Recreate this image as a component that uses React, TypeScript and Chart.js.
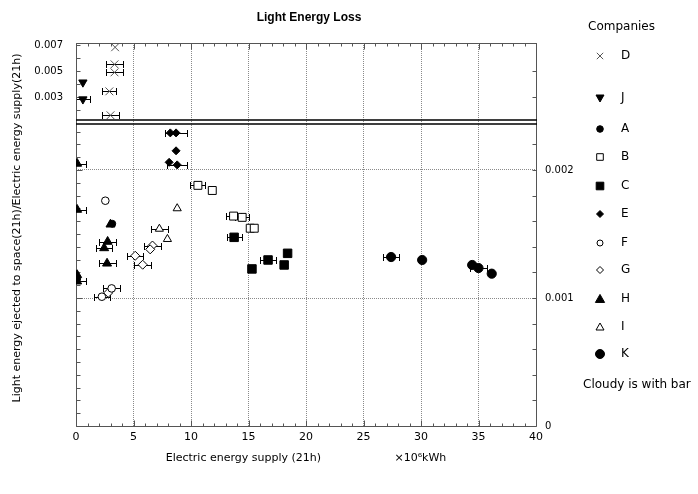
import React, { useEffect, useRef } from 'react';
import { Chart, registerables } from 'chart.js';

Chart.register(...registerables);

// ---------------- data ----------------
const X_TICKS = [0, 5, 10, 15, 20, 25, 30, 35, 40];
const TOP_TICKS = [0.003, 0.005, 0.007];
const MAIN_TICKS = [0, 0.001, 0.002];

const D_X = [3.4, 3.35, 3.35, 2.9, 3.0];
const D_Y = [0.00685, 0.00554, 0.00492, 0.00346, 0.00162];
const D_ERR = [0, 0.7, 0.7, 0.6, 0.74];

const J_X = [0.6, 0.6];
const J_Y = [0.00415, 0.00285];
const J_ERR = [0, 0.65];

const A_X = [3.15, 0.1];
const A_Y = [0.00158, 0.00115];
const A_ERR = [0, 0];

const B_X = [10.6, 11.85, 13.7, 14.45, 15.15, 15.5];
const B_Y = [0.00188, 0.00184, 0.00164, 0.00163, 0.001545, 0.001545];
const B_ERR = [0.65, 0, 0.65, 0.6, 0, 0];

const C_X = [13.75, 15.3, 16.7, 18.1, 18.4];
const C_Y = [0.001474, 0.001227, 0.001297, 0.001258, 0.001349];
const C_ERR = [0.65, 0, 0.7, 0, 0];

const E_X = [8.2, 8.7, 8.7, 8.1, 8.8];
const E_Y = [0.00229, 0.00229, 0.00215, 0.00206, 0.00204];
const E_ERR = [0, 0.95, 0, 0, 0.85];

const F_X = [2.55, 3.1, 2.25];
const F_Y = [0.00176, 0.001075, 0.00101];
const F_ERR = [0, 0.73, 0.7];

const G_X = [5.15, 5.8, 6.65, 6.45, 2.8];
const G_Y = [0.00133, 0.00126, 0.00141, 0.00138, 0.00104];
const G_ERR = [0.7, 0.75, 0.72, 0, 0];

const H_X = [0.1, 0.1, 2.75, 2.45, 2.7, 0.1, 0.1, 3.0];
const H_Y = [0.00205, 0.00169, 0.00144, 0.00139, 0.00127, 0.00118, 0.00113, 0.001575];
const H_ERR = [0.75, 0.75, 0.74, 0.7, 0.74, 0, 0.75, 0];

const I_X = [8.8, 7.25, 7.95];
const I_Y = [0.0017, 0.00154, 0.00146];
const I_ERR = [0, 0.74, 0];

const K_X = [27.4, 30.1, 34.45, 35.0, 36.15];
const K_Y = [0.00132, 0.001297, 0.001258, 0.001234, 0.00119];
const K_ERR = [0.7, 0, 0, 0.75, 0];

// ---------------- styles ----------------
type Shape = 'cross' | 'tri' | 'triDown' | 'circle' | 'square' | 'diamond';
interface Series {
  label: string;
  xs: number[];
  ys: number[];
  err: number[];
  axis: string;
  shape: Shape;
  r: number;
  fill: boolean;
  lr: number;
}

const SERIES: Series[] = [
  { label: 'D', xs: D_X, ys: D_Y, err: D_ERR, axis: 'yTop', shape: 'cross', r: 5.5, fill: false, lr: 3.2 },
  { label: 'J', xs: J_X, ys: J_Y, err: J_ERR, axis: 'yTop', shape: 'triDown', r: 4.8, fill: true, lr: 4 },
  { label: 'A', xs: A_X, ys: A_Y, err: A_ERR, axis: 'yMain', shape: 'circle', r: 3.5, fill: true, lr: 3.3 },
  { label: 'B', xs: B_X, ys: B_Y, err: B_ERR, axis: 'yMain', shape: 'square', r: 5.6, fill: false, lr: 3.3 },
  { label: 'C', xs: C_X, ys: C_Y, err: C_ERR, axis: 'yMain', shape: 'square', r: 6, fill: true, lr: 3.8 },
  { label: 'E', xs: E_X, ys: E_Y, err: E_ERR, axis: 'yMain', shape: 'diamond', r: 4, fill: true, lr: 3.5 },
  { label: 'F', xs: F_X, ys: F_Y, err: F_ERR, axis: 'yMain', shape: 'circle', r: 3.8, fill: false, lr: 3 },
  { label: 'G', xs: G_X, ys: G_Y, err: G_ERR, axis: 'yMain', shape: 'diamond', r: 4.5, fill: false, lr: 3.5 },
  { label: 'H', xs: H_X, ys: H_Y, err: H_ERR, axis: 'yMain', shape: 'tri', r: 5.2, fill: true, lr: 4.6 },
  { label: 'I', xs: I_X, ys: I_Y, err: I_ERR, axis: 'yMain', shape: 'tri', r: 4.7, fill: false, lr: 4 },
  { label: 'K', xs: K_X, ys: K_Y, err: K_ERR, axis: 'yMain', shape: 'circle', r: 4.6, fill: true, lr: 4.5 },
];

const FONT = 'DejaVu Sans';
const LEGEND_Y = [56, 98, 129, 157, 186, 214, 243, 270, 299, 327, 354];

const pointStyleOf = (s: Shape) =>
  s === 'cross' ? 'crossRot' : s === 'tri' || s === 'triDown' ? 'triangle' : s === 'square' ? 'rect' : s === 'diamond' ? 'rectRot' : 'circle';

function drawMarker(ctx: CanvasRenderingContext2D, shape: Shape, x: number, y: number, r: number, fill: boolean) {
  ctx.save();
  ctx.lineWidth = 1;
  ctx.strokeStyle = '#000';
  ctx.fillStyle = fill ? '#000' : '#fff';
  ctx.beginPath();
  if (shape === 'circle') {
    ctx.arc(x, y, r, 0, Math.PI * 2);
  } else if (shape === 'square') {
    ctx.rect(x - r, y - r, 2 * r, 2 * r);
  } else if (shape === 'diamond') {
    ctx.moveTo(x, y - r); ctx.lineTo(x + r, y); ctx.lineTo(x, y + r); ctx.lineTo(x - r, y); ctx.closePath();
  } else if (shape === 'tri') {
    ctx.moveTo(x, y - r); ctx.lineTo(x + r, y + r * 0.75); ctx.lineTo(x - r, y + r * 0.75); ctx.closePath();
  } else if (shape === 'triDown') {
    ctx.moveTo(x, y + r); ctx.lineTo(x + r, y - r * 0.75); ctx.lineTo(x - r, y - r * 0.75); ctx.closePath();
  } else {
    ctx.moveTo(x - r, y - r); ctx.lineTo(x + r, y + r); ctx.moveTo(x + r, y - r); ctx.lineTo(x - r, y + r);
    ctx.strokeStyle = '#555';
    ctx.stroke();
    ctx.restore();
    return;
  }
  ctx.fill();
  ctx.stroke();
  ctx.restore();
}

const errorBarPlugin = {
  id: 'errorBars',
  beforeDatasetsDraw(chart: any) {
    const { ctx, chartArea: ca } = chart;
    const xs = chart.scales.x;
    ctx.save();
    ctx.beginPath();
    ctx.rect(ca.left, ca.top, ca.right - ca.left, ca.bottom - ca.top);
    ctx.clip();
    ctx.strokeStyle = '#000';
    ctx.lineWidth = 1;
    chart.data.datasets.forEach((ds: any) => {
      const ys = chart.scales[ds.yAxisID];
      ds.data.forEach((p: any) => {
        if (!p.err) return;
        const x1 = Math.round(xs.getPixelForValue(p.x - p.err)) + 0.5;
        const x2 = Math.round(xs.getPixelForValue(p.x + p.err)) + 0.5;
        const y = Math.round(ys.getPixelForValue(p.y)) + 0.5;
        ctx.beginPath();
        ctx.moveTo(x1, y); ctx.lineTo(x2, y);
        ctx.moveTo(x1, y - 3.5); ctx.lineTo(x1, y + 3.5);
        ctx.moveTo(x2, y - 3.5); ctx.lineTo(x2, y + 3.5);
        ctx.stroke();
      });
    });
    ctx.restore();
  },
};

const framePlugin = {
  id: 'frame',
  beforeDatasetsDraw(chart: any) {
    const { ctx, chartArea: ca, scales } = chart;
    const xS = scales.x, yT = scales.yTop, yM = scales.yMain;
    const L = Math.round(ca.left) + 0.5;
    const R = Math.round(ca.right) + 0.5;
    const T = Math.round(ca.top) + 0.5;
    const B = Math.round(ca.bottom) + 0.5;
    ctx.save();
    ctx.lineWidth = 1;
    ctx.strokeStyle = '#555';
    ctx.beginPath();
    ctx.moveTo(L, T); ctx.lineTo(L, B);
    ctx.moveTo(L, B); ctx.lineTo(R, B);
    ctx.moveTo(R, T); ctx.lineTo(R, B);
    ctx.moveTo(L, T); ctx.lineTo(R, T);
    // x ticks
    for (let v = 0; v <= 40; v += 1) {
      const px = Math.round(xS.getPixelForValue(v)) + 0.5;
      const len = v % 5 === 0 ? 6 : 3;
      ctx.moveTo(px, B); ctx.lineTo(px, B - len);
      ctx.moveTo(px, T); ctx.lineTo(px, T + len);
    }
    // main region ticks
    for (let i = 1; i <= 23; i++) {
      const py = Math.round(yM.getPixelForValue(i * 0.0001)) + 0.5;
      ctx.moveTo(L, py); ctx.lineTo(L + (i % 10 === 0 ? 6 : 4), py);
      if (i % 2 === 0) { ctx.moveTo(R, py); ctx.lineTo(R - 4, py); }
    }
    // top region ticks
    for (let i = 2; i <= 7; i++) {
      const py = Math.round(yT.getPixelForValue(i * 0.001)) + 0.5;
      ctx.moveTo(L, py); ctx.lineTo(L + 4, py);
      if (i % 2 === 1 && i < 7) { ctx.moveTo(R, py); ctx.lineTo(R - 4, py); }
    }
    ctx.stroke();
    // axis break: double line
    const b = yM.top;
    ctx.strokeStyle = '#000';
    ctx.lineWidth = 1.5;
    ctx.beginPath();
    ctx.moveTo(ca.left, b - 2); ctx.lineTo(ca.right + 1, b - 2);
    ctx.moveTo(ca.left, b + 2); ctx.lineTo(ca.right + 1, b + 2);
    ctx.stroke();
    ctx.restore();
  },
};

const textPlugin = {
  id: 'texts',
  afterDraw(chart: any) {
    const { ctx } = chart;
    ctx.save();
    ctx.fillStyle = '#000';
    // y axis title
    ctx.save();
    ctx.translate(17, 228);
    ctx.rotate(-Math.PI / 2);
    ctx.font = `11px "${FONT}"`;
    ctx.textAlign = 'center';
    ctx.textBaseline = 'middle';
    ctx.fillText('Light energy ejected to space(21h)/Electric energy supply(21h)', 0, 0);
    ctx.restore();
    // legend
    ctx.font = `12px "${FONT}"`;
    ctx.textBaseline = 'middle';
    ctx.textAlign = 'left';
    ctx.fillText('Companies', 588, 27);
    SERIES.forEach((s, i) => {
      drawMarker(ctx, s.shape, 600, LEGEND_Y[i], s.lr, s.fill);
      ctx.fillStyle = '#000';
      ctx.fillText(s.label, 621, LEGEND_Y[i]);
    });
    ctx.fillText('Cloudy is with bar', 583, 385);
    ctx.restore();
  },
};

export default function App() {
  const ref = useRef<HTMLCanvasElement>(null);
  useEffect(() => {
    const datasets = SERIES.map((s) => ({
      label: s.label,
      yAxisID: s.axis,
      data: s.xs.map((x, i) => ({ x, y: s.ys[i], err: s.err[i] })),
      pointStyle: pointStyleOf(s.shape),
      rotation: s.shape === 'triDown' ? 180 : 0,
      pointRadius: s.r,
      pointBorderWidth: 1,
      pointBorderColor: s.shape === 'cross' ? '#555' : '#000',
      pointBackgroundColor: s.fill ? '#000' : '#fff',
      showLine: false,
    }));
    const tickFont = { family: FONT, size: 10 };
    const chart = new Chart(ref.current as HTMLCanvasElement, {
      type: 'scatter',
      data: { datasets } as any,
      plugins: [errorBarPlugin, framePlugin, textPlugin],
      options: {
        responsive: false,
        animation: false,
        layout: { padding: { left: 0, right: 80, top: 0, bottom: 0 } },
        plugins: {
          legend: { display: false },
          tooltip: { enabled: false },
          title: {
            display: true,
            text: 'Light Energy Loss',
            color: '#000',
            font: { family: 'Liberation Sans', size: 12, weight: 'bold' },
            padding: { top: 10, bottom: 18.6 },
          },
        },
        scales: {
          x: {
            type: 'linear',
            position: 'bottom',
            min: 0,
            max: 40,
            afterBuildTicks: (s: any) => { s.ticks = X_TICKS.map((v) => ({ value: v })); },
            afterFit: (s: any) => { s.height = 68; },
            ticks: { color: '#000', font: { family: FONT, size: 11 }, padding: 5, autoSkip: false, maxRotation: 0 },
            grid: { color: '#8a8a8a', lineWidth: 1, drawTicks: false },
            border: { display: false, dash: [1, 1] },
            title: {
              display: true,
              text: 'Electric energy supply (21h)                     ×10⁶kWh',
              color: '#000',
              font: { family: FONT, size: 11 },
              padding: { top: 0, bottom: 29.4 },
            },
          },
          yTop: {
            type: 'linear',
            position: 'left',
            stack: 'left',
            stackWeight: 79,
            weight: 2,
            min: 0.0011,
            max: 0.00718,
            afterBuildTicks: (s: any) => { s.ticks = TOP_TICKS.map((v) => ({ value: v })); },
            afterFit: (s: any) => { s.width = 76; },
            ticks: { color: '#000', font: tickFont, padding: 13, callback: (v: any) => Number(v).toFixed(3) },
            grid: { display: false, drawTicks: false },
            border: { display: false },
          },
          yMain: {
            type: 'linear',
            position: 'left',
            stack: 'left',
            stackWeight: 304,
            weight: 1,
            min: 0,
            max: 0.002375,
            afterBuildTicks: (s: any) => { s.ticks = MAIN_TICKS.map((v) => ({ value: v })); },
            afterFit: (s: any) => { s.width = 76; },
            ticks: { display: false },
            grid: { color: '#8a8a8a', lineWidth: 1, drawTicks: false },
            border: { display: false, dash: [1, 1] },
          },
          yTopR: {
            type: 'linear',
            position: 'right',
            stack: 'right',
            stackWeight: 79,
            weight: 1,
            min: 0.0011,
            max: 0.00718,
            afterFit: (s: any) => { s.width = 82; },
            ticks: { display: false },
            grid: { display: false, drawTicks: false },
            border: { display: false },
          },
          yMainR: {
            type: 'linear',
            position: 'right',
            stack: 'right',
            stackWeight: 304,
            weight: 2,
            min: 0,
            max: 0.002375,
            afterBuildTicks: (s: any) => { s.ticks = MAIN_TICKS.map((v) => ({ value: v })); },
            afterFit: (s: any) => { s.width = 82; },
            ticks: {
              color: '#000',
              font: tickFont,
              padding: 9,
              callback: (v: any) => (Number(v) === 0 ? '0' : Number(v).toFixed(3)),
            },
            grid: { display: false, drawTicks: false },
            border: { display: false },
          },
        },
      } as any,
    });
    return () => chart.destroy();
  }, []);
  return (
    <div style={{ position: 'fixed', left: 0, top: 0, width: 698, height: 494, background: '#fff' }}>
      <canvas ref={ref} width={698} height={494} style={{ display: 'block' }} />
    </div>
  );
}
